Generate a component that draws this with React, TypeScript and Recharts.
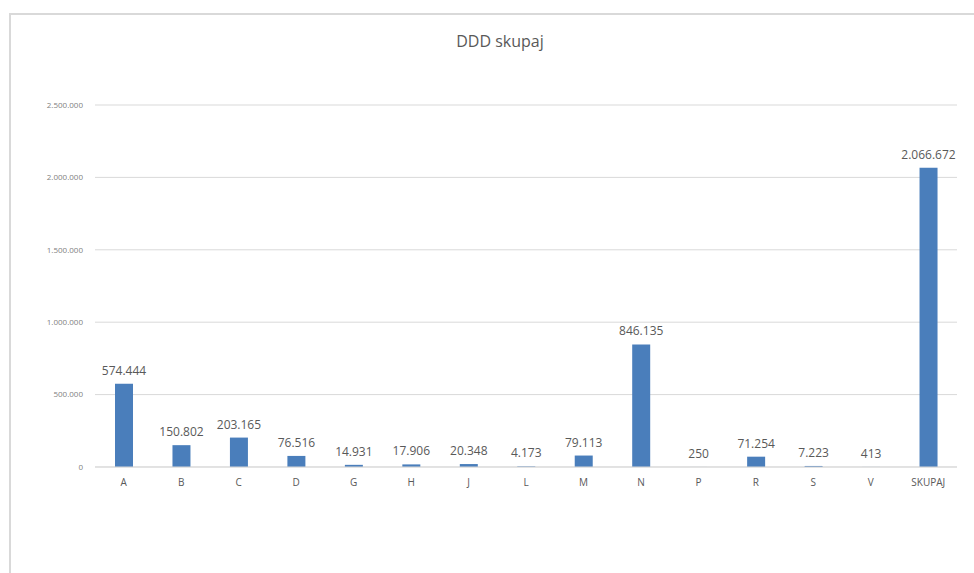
import { BarChart, Bar, XAxis, YAxis, CartesianGrid, LabelList } from 'recharts'

// kategorije in vrednosti DDD
const categories = ['A', 'B', 'C', 'D', 'G', 'H', 'J', 'L', 'M', 'N', 'P', 'R', 'S', 'V', 'SKUPAJ']
const values = [574444, 150802, 203165, 76516, 14931, 17906, 20348, 4173, 79113, 846135, 250, 71254, 7223, 413, 2066672]
const yTicks = [0, 500000, 1000000, 1500000, 2000000, 2500000]

const data = categories.map((name, i) => ({ name, ddd: values[i] }))

// format s pikami za tisočice
const fmt = (v: number) => String(v).replace(/\B(?=(\d{3})+(?!\d))/g, '.')

const FONT = '"Open Sans", "Liberation Sans", sans-serif'

export default function App() {
  return (
    <div style={{ position: 'absolute', left: 0, top: 0, width: 974, height: 573, background: '#fff', overflow: 'hidden', fontFamily: FONT }}>
      {/* okvir grafa */}
      <div
        style={{
          position: 'absolute',
          left: 9,
          top: 13,
          width: 1000,
          height: 600,
          borderLeft: '2px solid #d9d9d9',
          borderTop: '2px solid #d9d9d9',
        }}
      />
      <div style={{ position: 'absolute', left: 500, top: 30, transform: 'translateX(-50%)', whiteSpace: 'nowrap', fontSize: 16, color: '#595959' }}>
        DDD skupaj
      </div>
      <div style={{ position: 'absolute', left: 0, top: 0 }}>
        <BarChart width={974} height={573} data={data} margin={{ top: 105, right: 17, bottom: 76, left: 0 }}>
          <CartesianGrid vertical={false} stroke="#d9d9d9" />
          <XAxis
            dataKey="name"
            height={30}
            axisLine={{ stroke: '#d9d9d9' }}
            tickLine={false}
            tickMargin={6}
            interval={0}
            tick={{ fontSize: 10, fill: '#595959', fontFamily: FONT }}
          />
          <YAxis
            width={95}
            domain={[0, 2500000]}
            ticks={yTicks}
            tickFormatter={fmt}
            axisLine={false}
            tickLine={false}
            tickMargin={6}
            tick={{ fontSize: 8, fill: '#7f7f7f', fontFamily: FONT }}
          />
          <Bar dataKey="ddd" fill="#4a7ebb" barSize={18} isAnimationActive={false}>
            <LabelList dataKey="ddd" position="top" offset={9} formatter={(v: any) => fmt(v)} style={{ fontSize: 12, fill: '#595959', fontFamily: FONT }} />
          </Bar>
        </BarChart>
      </div>
    </div>
  )
}
